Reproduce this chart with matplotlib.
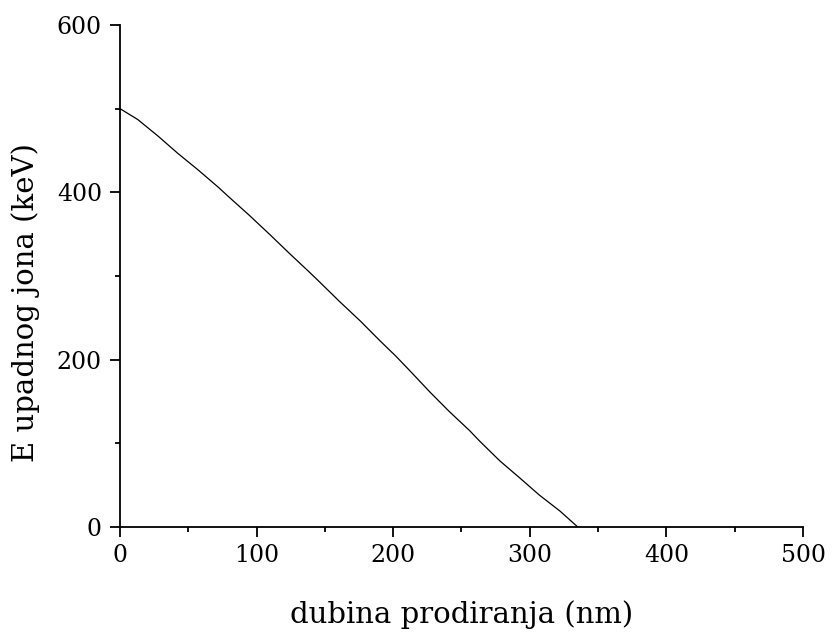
import matplotlib
matplotlib.use("Agg")
import matplotlib.pyplot as plt
from matplotlib.ticker import MultipleLocator

# depth (nm) vs. incident ion energy (keV)
depth = [0, 13, 28, 42, 57, 72, 80, 95, 110, 124, 139, 146, 161, 176,
         190, 202, 212, 227, 241, 256, 263, 278, 293, 307, 322, 335]
energy = [500, 487, 467, 447, 427, 406, 394, 372, 349, 327, 304, 293, 269,
          246, 223, 204, 187, 161, 138, 115, 103, 79, 58, 38, 19, 0]

plt.rcParams['font.family'] = ['DejaVu Serif']

fig = plt.figure(figsize=(8.33, 6.34), dpi=100)
ax = fig.add_axes([0.144, 0.169, 0.820, 0.7916])

ax.plot(depth, energy, color='black', linewidth=0.9)

ax.set_xlim(0, 500)
ax.set_ylim(0, 600)
ax.xaxis.set_major_locator(MultipleLocator(100))
ax.xaxis.set_minor_locator(MultipleLocator(50))
ax.yaxis.set_major_locator(MultipleLocator(200))
ax.yaxis.set_minor_locator(MultipleLocator(100))

for side in ['top', 'right']:
    ax.spines[side].set_visible(False)
for side in ['left', 'bottom']:
    ax.spines[side].set_linewidth(1.3)

ax.tick_params(which='major', direction='out', length=7, width=1.3,
               labelsize=17)
ax.tick_params(which='minor', direction='out', length=3.5, width=1.3)
ax.tick_params(axis='x', which='major', pad=5)
ax.tick_params(axis='y', which='major', pad=6)

ax.set_xlabel('dubina prodiranja (nm)', fontsize=21, labelpad=24)
ax.set_ylabel('E upadnog jona (keV)', fontsize=21, labelpad=12)
ax.yaxis.label.set_y(0.446)

fig.savefig('out.png', dpi=100)
